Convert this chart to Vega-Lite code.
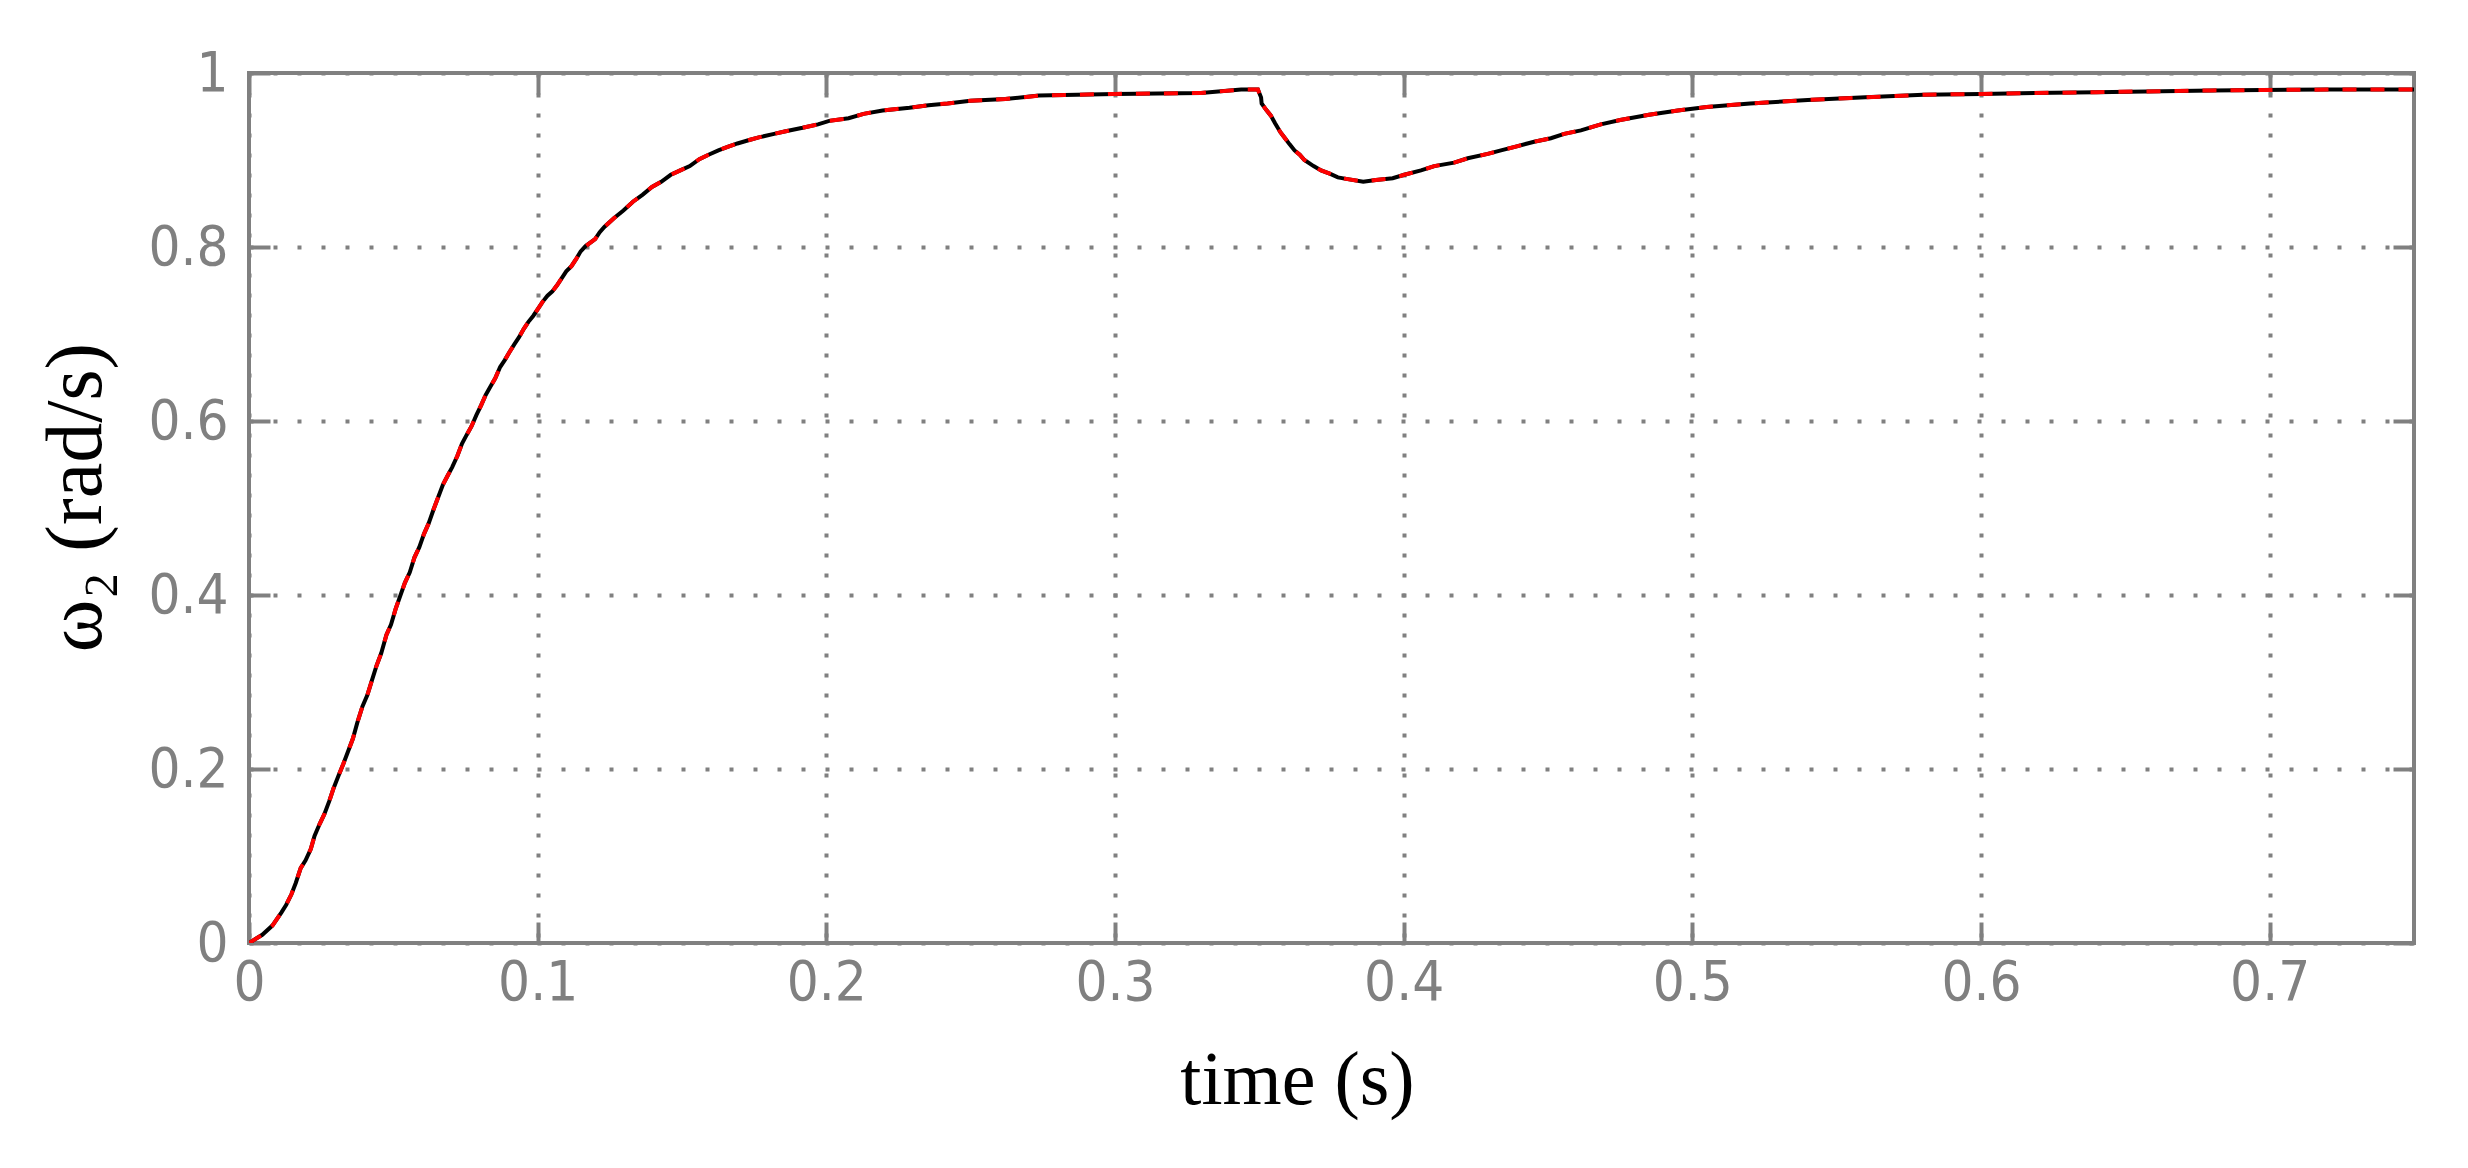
{
  "$schema": "https://vega.github.io/schema/vega-lite/v6.json",
  "autosize": "none",
  "width": 2165,
  "height": 870,
  "padding": {"left": 249, "top": 73, "right": 54, "bottom": 225},
  "background": "white",
  "config": {
    "view": {"stroke": "#808080", "strokeWidth": 4},
    "axis": {
      "labelFont": "Liberation Sans Narrow, DejaVu Sans Condensed, sans-serif",
      "labelFontSize": 56,
      "labelColor": "#808080",
      "tickColor": "#808080",
      "tickWidth": 4,
      "tickSize": -21,
      "domain": false,
      "titleFont": "Liberation Serif, serif",
      "titleColor": "#000000",
      "titleFontWeight": "normal"
    }
  },
  "data": {
    "values": [
      {"t": 0, "v": 0}, {"t": 0.0046, "v": 0.0094}, {"t": 0.0081, "v": 0.02}, {"t": 0.0112, "v": 0.035},
      {"t": 0.0129, "v": 0.044}, {"t": 0.0147, "v": 0.056}, {"t": 0.0162, "v": 0.069}, {"t": 0.0179, "v": 0.086},
      {"t": 0.0196, "v": 0.095}, {"t": 0.0214, "v": 0.108}, {"t": 0.0227, "v": 0.123}, {"t": 0.0245, "v": 0.137},
      {"t": 0.0261, "v": 0.148}, {"t": 0.0278, "v": 0.163}, {"t": 0.0293, "v": 0.178}, {"t": 0.0311, "v": 0.193},
      {"t": 0.0327, "v": 0.206}, {"t": 0.0344, "v": 0.221}, {"t": 0.036, "v": 0.235}, {"t": 0.0375, "v": 0.253},
      {"t": 0.0393, "v": 0.272}, {"t": 0.041, "v": 0.285}, {"t": 0.0425, "v": 0.301}, {"t": 0.0441, "v": 0.318},
      {"t": 0.0458, "v": 0.333}, {"t": 0.0476, "v": 0.354}, {"t": 0.0492, "v": 0.366}, {"t": 0.0508, "v": 0.384},
      {"t": 0.054, "v": 0.414}, {"t": 0.0557, "v": 0.426}, {"t": 0.0573, "v": 0.443}, {"t": 0.059, "v": 0.455},
      {"t": 0.0606, "v": 0.47}, {"t": 0.0622, "v": 0.482}, {"t": 0.0639, "v": 0.498}, {"t": 0.0656, "v": 0.513},
      {"t": 0.0672, "v": 0.527}, {"t": 0.0688, "v": 0.537}, {"t": 0.0704, "v": 0.547}, {"t": 0.0722, "v": 0.56},
      {"t": 0.0738, "v": 0.574}, {"t": 0.0754, "v": 0.584}, {"t": 0.0771, "v": 0.594}, {"t": 0.0788, "v": 0.607},
      {"t": 0.0804, "v": 0.618}, {"t": 0.082, "v": 0.63}, {"t": 0.0837, "v": 0.64}, {"t": 0.0853, "v": 0.649},
      {"t": 0.087, "v": 0.662}, {"t": 0.0886, "v": 0.67}, {"t": 0.0902, "v": 0.679}, {"t": 0.0919, "v": 0.688},
      {"t": 0.0935, "v": 0.696}, {"t": 0.0952, "v": 0.706}, {"t": 0.0968, "v": 0.714}, {"t": 0.0985, "v": 0.721},
      {"t": 0.1001, "v": 0.729}, {"t": 0.1017, "v": 0.737}, {"t": 0.1034, "v": 0.744}, {"t": 0.1051, "v": 0.749},
      {"t": 0.1067, "v": 0.756}, {"t": 0.1083, "v": 0.764}, {"t": 0.1099, "v": 0.772}, {"t": 0.1117, "v": 0.778},
      {"t": 0.1133, "v": 0.786}, {"t": 0.1149, "v": 0.795}, {"t": 0.1166, "v": 0.801}, {"t": 0.1199, "v": 0.809},
      {"t": 0.1215, "v": 0.817}, {"t": 0.1231, "v": 0.823}, {"t": 0.1264, "v": 0.833}, {"t": 0.1297, "v": 0.842},
      {"t": 0.133, "v": 0.852}, {"t": 0.1363, "v": 0.86}, {"t": 0.1396, "v": 0.869}, {"t": 0.1428, "v": 0.875},
      {"t": 0.1461, "v": 0.883}, {"t": 0.1494, "v": 0.888}, {"t": 0.1527, "v": 0.893}, {"t": 0.156, "v": 0.901},
      {"t": 0.1592, "v": 0.906}, {"t": 0.1626, "v": 0.911}, {"t": 0.1658, "v": 0.915}, {"t": 0.1692, "v": 0.919},
      {"t": 0.1733, "v": 0.923}, {"t": 0.1766, "v": 0.926}, {"t": 0.1819, "v": 0.93}, {"t": 0.1859, "v": 0.933},
      {"t": 0.1918, "v": 0.937}, {"t": 0.1971, "v": 0.941}, {"t": 0.201, "v": 0.945}, {"t": 0.2077, "v": 0.948},
      {"t": 0.2129, "v": 0.953}, {"t": 0.2195, "v": 0.957}, {"t": 0.2288, "v": 0.96}, {"t": 0.2354, "v": 0.963},
      {"t": 0.242, "v": 0.965}, {"t": 0.2499, "v": 0.968}, {"t": 0.262, "v": 0.97}, {"t": 0.2736, "v": 0.974},
      {"t": 0.3, "v": 0.976}, {"t": 0.3298, "v": 0.977}, {"t": 0.3437, "v": 0.981}, {"t": 0.3495, "v": 0.981},
      {"t": 0.3506, "v": 0.972}, {"t": 0.3508, "v": 0.965}, {"t": 0.3523, "v": 0.958}, {"t": 0.354, "v": 0.951},
      {"t": 0.3555, "v": 0.942}, {"t": 0.3573, "v": 0.932}, {"t": 0.3589, "v": 0.925}, {"t": 0.3605, "v": 0.918},
      {"t": 0.3622, "v": 0.911}, {"t": 0.364, "v": 0.906}, {"t": 0.3656, "v": 0.9}, {"t": 0.3688, "v": 0.893},
      {"t": 0.3714, "v": 0.888}, {"t": 0.3746, "v": 0.884}, {"t": 0.3772, "v": 0.88}, {"t": 0.3806, "v": 0.878},
      {"t": 0.386, "v": 0.875}, {"t": 0.3904, "v": 0.877}, {"t": 0.3962, "v": 0.879}, {"t": 0.4002, "v": 0.883},
      {"t": 0.406, "v": 0.888}, {"t": 0.4106, "v": 0.893}, {"t": 0.4175, "v": 0.897}, {"t": 0.4222, "v": 0.902},
      {"t": 0.4291, "v": 0.907}, {"t": 0.4337, "v": 0.911}, {"t": 0.4395, "v": 0.916}, {"t": 0.4452, "v": 0.921},
      {"t": 0.451, "v": 0.925}, {"t": 0.4556, "v": 0.93}, {"t": 0.4614, "v": 0.934}, {"t": 0.4654, "v": 0.938},
      {"t": 0.4683, "v": 0.941}, {"t": 0.475, "v": 0.946}, {"t": 0.485, "v": 0.952}, {"t": 0.495, "v": 0.957},
      {"t": 0.505, "v": 0.961}, {"t": 0.52, "v": 0.965}, {"t": 0.54, "v": 0.969}, {"t": 0.56, "v": 0.972},
      {"t": 0.58, "v": 0.975}, {"t": 0.6, "v": 0.976}, {"t": 0.64, "v": 0.978}, {"t": 0.68, "v": 0.98},
      {"t": 0.72, "v": 0.981}, {"t": 0.75, "v": 0.981}
    ]
  },
  "layer": [
    {
      "mark": {"type": "line", "color": "#000000", "strokeWidth": 4, "clip": true},
      "encoding": {
        "x": {
          "field": "t", "type": "quantitative",
          "scale": {"domain": [0, 0.75], "nice": false, "zero": false},
          "axis": {
            "orient": "bottom",
            "values": [0, 0.1, 0.2, 0.3, 0.4, 0.5, 0.6, 0.7],
            "format": "~g",
            "labelPadding": 33,
            "labelFlush": false,
            "grid": true,
            "gridColor": "#808080",
            "gridWidth": 4,
            "gridDash": [4, 16],
            "gridOpacity": 1,
            "title": "time (s)",
            "titleFontSize": 76,
            "titleBaseline": "alphabetic",
            "titleAlign": "center",
            "titleX": 1048,
            "titleY": 160
          }
        },
        "y": {
          "field": "v", "type": "quantitative",
          "scale": {"domain": [0, 1], "nice": false, "zero": false},
          "axis": {
            "orient": "left",
            "values": [0, 0.2, 0.4, 0.6, 0.8, 1],
            "format": "~g",
            "labelPadding": 42,
            "labelFlush": false,
            "grid": true,
            "gridColor": "#808080",
            "gridWidth": 4,
            "gridDash": [4, 20],
            "gridOpacity": 1,
            "title": "ω₂ (rad/s)",
            "titleFontSize": 80,
            "titleAngle": -90,
            "titleBaseline": "alphabetic",
            "titleAlign": "center",
            "titleX": -149,
            "titleY": 424
          }
        }
      }
    },
    {
      "mark": {"type": "line", "color": "#ff0000", "strokeWidth": 4, "strokeDash": [14, 14], "clip": true},
      "encoding": {
        "x": {
          "field": "t", "type": "quantitative",
          "scale": {"domain": [0, 0.75], "nice": false, "zero": false},
          "axis": {"orient": "top", "values": [0, 0.1, 0.2, 0.3, 0.4, 0.5, 0.6, 0.7], "labels": false, "grid": false, "title": null}
        },
        "y": {
          "field": "v", "type": "quantitative",
          "scale": {"domain": [0, 1], "nice": false, "zero": false},
          "axis": {"orient": "right", "values": [0, 0.2, 0.4, 0.6, 0.8, 1], "labels": false, "grid": false, "title": null}
        }
      }
    }
  ],
  "resolve": {"axis": {"x": "independent", "y": "independent"}}
}
